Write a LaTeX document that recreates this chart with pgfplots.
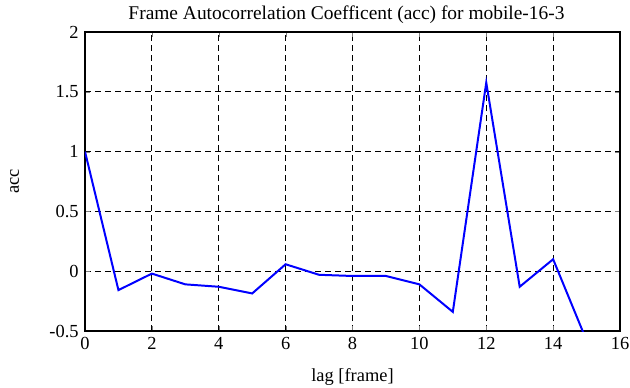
\documentclass[border=0pt]{standalone}
\usepackage{pgfplots}
\pgfplotsset{compat=1.18}
\usepackage{fontspec}
\setmainfont{Liberation Serif}
\begin{document}
\fontsize{18.5}{22}\selectfont
\begin{tikzpicture}[x=1bp,y=1bp]
\path[use as bounding box] (-85,-56) rectangle (545,331);
\begin{axis}[
  at={(0,0)}, anchor=south west,
  scale only axis, width=535bp, height=299bp,
  xmin=0, xmax=16, ymin=-0.5, ymax=2,
  xtick={0,2,...,16}, ytick={-0.5,0,0.5,1,1.5,2},
  yticklabels={-0.5,0,0.5,1,1.5,2},
  tick align=inside, tick pos=both,
  major tick length=5bp,
  grid=major, major grid style={black, dash pattern=on 6bp off 4bp, line width=0.8pt},
  axis line style={black, line width=1.2pt},
  /pgf/number format/assume math mode=true,
  ticklabel style={font=\fontsize{18.5}{22}\selectfont},
  title={Frame Autocorrelation Coefficent (acc) for mobile-16-3},
  title style={font=\fontsize{19.5}{22}\selectfont, yshift=-4bp, xshift=-6bp},
  xlabel={lag [frame]}, ylabel={acc},
  label style={font=\fontsize{18.5}{22}\selectfont},
  xlabel style={yshift=-6bp},
  ylabel style={yshift=18bp},
  clip=true,
]
\addplot[blue, line width=2pt, mark=none] coordinates {
(0,1.0) (1,-0.158) (2,-0.02) (3,-0.11) (4,-0.13) (5,-0.186) (6,0.058) (7,-0.03)
(8,-0.04) (9,-0.04) (10,-0.11) (11,-0.34) (12,1.577) (13,-0.13) (14,0.1) (15,-0.58)
};
\end{axis}
\end{tikzpicture}
\end{document}
